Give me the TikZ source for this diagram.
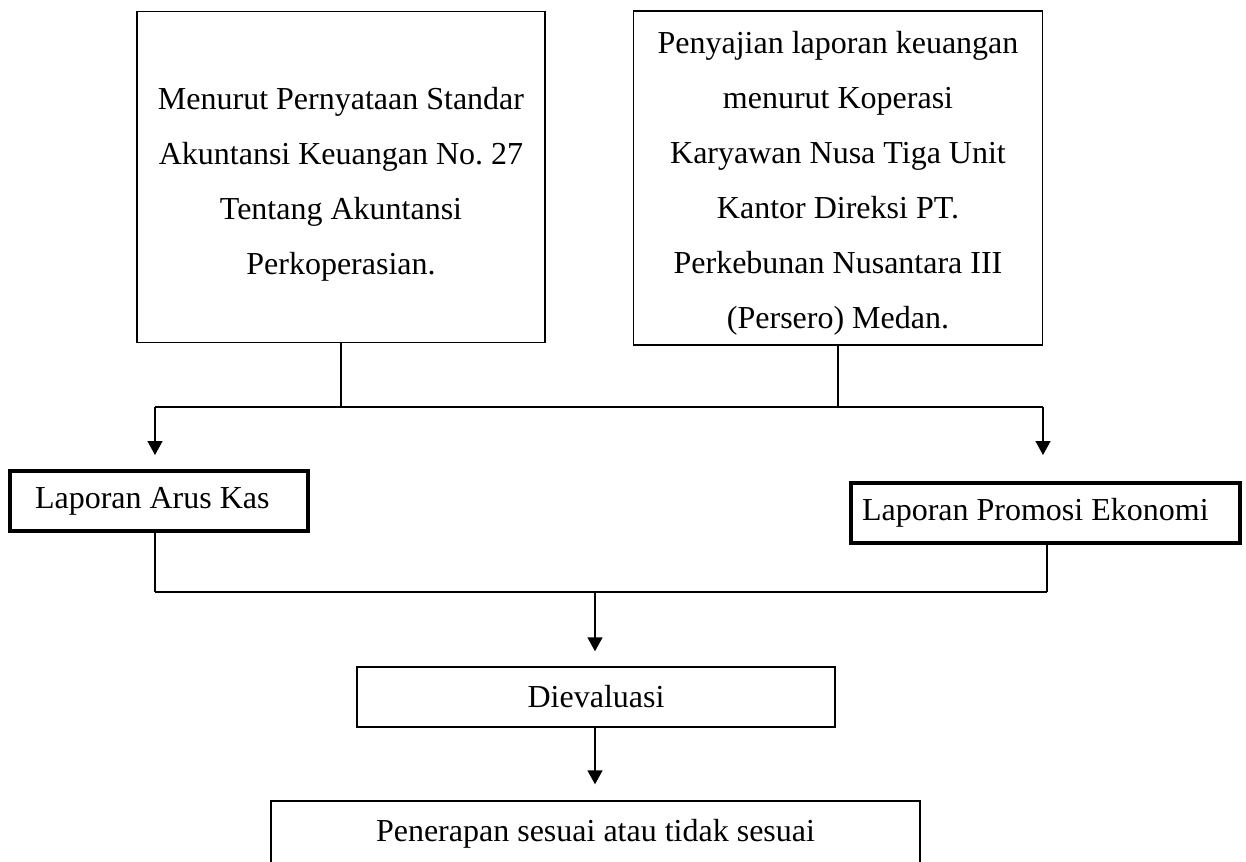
\documentclass[tikz,border=0pt]{standalone}
\usepackage{fontspec}
\setmainfont{Liberation Serif}
\frenchspacing
\usetikzlibrary{arrows.meta}
\tikzset{
  kotak/.style={draw, line width=0.7pt, inner sep=0pt, align=center,
    font=\fontsize{16}{27.5}\selectfont},
  teks/.style={inner sep=0pt, align=center, font=\fontsize{16}{27.5}\selectfont},
  kotaktebal/.style={draw, line width=2pt, inner ysep=0pt, align=flush left,
    minimum height=30pt, font=\fontsize{16}{20}\selectfont},
  garis/.style={line width=0.7pt},
  panah/.style={garis, -{Triangle[length=7pt,width=7.5pt]}}
}
\begin{document}
\begin{tikzpicture}[x=0.5pt,y=-0.5pt]
\useasboundingbox (0,0) rectangle (1246,861);
% kotak atas
\node (A) [kotak, minimum width=204pt, minimum height=165.5pt] at (341,177) {};
\node (Ateks) [teks] at (341,184)
  {Menurut Pernyataan Standar\\Akuntansi Keuangan No. 27\\Tentang Akuntansi\\Perkoperasian.};
\node (B) [kotak, minimum width=204.5pt, minimum height=167pt] at (838,178) {};
\node (Bteks) [teks] at (838,183)
  {Penyajian laporan keuangan\\menurut Koperasi\\Karyawan Nusa Tiga Unit\\Kantor Direksi PT.\\Perkebunan Nusantara III\\(Persero) Medan.};
% kotak laporan
\node (C) [kotaktebal, inner xsep=12.5pt, text width=124pt] at (159,501) {Laporan Arus Kas};
\node (D) [kotaktebal, inner xsep=5.5pt, text width=183.5pt] at (1045.5,513) {Laporan Promosi Ekonomi};
% kotak bawah
\node (E) [kotak, minimum width=239pt, minimum height=30pt] at (596,697) {Dievaluasi};
\node (F) [kotak, minimum width=324.5pt, minimum height=33pt] at (595.5,834) {Penerapan sesuai atau tidak sesuai};
% titik cabang
\coordinate (bus1L) at (155,407);
\coordinate (bus1R) at (1043,407);
\coordinate (bus2L) at (155,592);
\coordinate (bus2R) at (1047,592);
\coordinate (bus2M) at (595,592);
% garis penghubung
\draw [garis] (A.south) -- (A.south |- bus1L);
\draw [garis] (B.south) -- (B.south |- bus1L);
\draw [garis] (bus1L) -- (bus1R);
\draw [panah, shorten >=7pt] (bus1L) -- (bus1L |- C.north);
\draw [panah, shorten >=13pt] (bus1R) -- (bus1R |- D.north);
\draw [garis] (bus2L |- C.south) -- (bus2L);
\draw [garis] (bus2R |- D.south) -- (bus2R);
\draw [garis] (bus2L) -- (bus2R);
\draw [panah, shorten >=7.5pt] (bus2M) -- (bus2M |- E.north);
\draw [panah, shorten >=8pt] (E.south -| bus2M) -- (bus2M |- F.north);
\end{tikzpicture}
\end{document}
